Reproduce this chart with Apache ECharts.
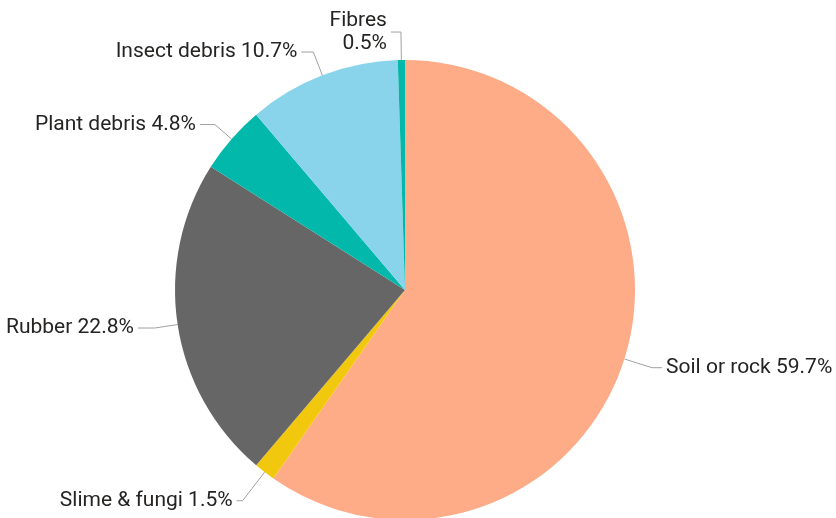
<!DOCTYPE html>
<html>
<head>
<meta charset="utf-8">
<script src="https://cdn.jsdelivr.net/npm/echarts@6/dist/echarts.min.js"></script>
<style>html,body{margin:0;padding:0;background:#fff;}#c{width:836px;height:518px;}</style>
</head>
<body>
<div id="c"></div>
<script>
const categories = ['Soil or rock', 'Slime & fungi', 'Rubber', 'Plant debris', 'Insect debris', 'Fibres'];
const values = [59.7, 1.5, 22.8, 4.8, 10.7, 0.5];
const colors = ['#FEAB88', '#F2C80F', '#666666', '#01B8AA', '#8AD4EB', '#01B8AA'];

const data = categories.map((name, i) => {
  const item = { name, value: values[i], itemStyle: { color: colors[i] } };
  if (name === 'Fibres') {
    item.label = { formatter: '{b}\n{d}%', align: 'right', lineHeight: 23 };
    item.labelLine = { length: 28, length2: 10 };
  }
  if (name === 'Soil or rock') {
    item.label = { padding: [7, 0, 0, 0] };
  }
  if (name === 'Rubber') {
    item.label = { padding: [8, 0, 0, 0] };
    item.labelLine = { length: 23, length2: 17 };
  }
  if (name === 'Slime & fungi') {
    item.labelLine = { length: 36, length2: 6 };
  }
  if (name === 'Plant debris') {
    item.labelLine = { length: 22, length2: 15 };
  }
  if (name === 'Insect debris') {
    item.labelLine = { length: 25, length2: 12 };
  }
  return item;
});

const chart = echarts.init(document.getElementById('c'));
chart.setOption({
  animation: false,
  series: [{
    type: 'pie',
    center: [405, 290],
    radius: 230,
    startAngle: 90,
    clockwise: true,
    avoidLabelOverlap: false,
    data,
    label: {
      show: true,
      formatter: '{b} {d}%',
      fontFamily: 'Roboto',
      fontSize: 21,
      color: '#252423',
      distanceToLabelLine: 4
    },
    labelLine: {
      show: true,
      length: 29,
      length2: 10,
      lineStyle: { color: '#a0a0a0', width: 1 }
    },
    itemStyle: { borderWidth: 0 },
    emphasis: { disabled: true }
  }]
});
</script>
</body>
</html>
